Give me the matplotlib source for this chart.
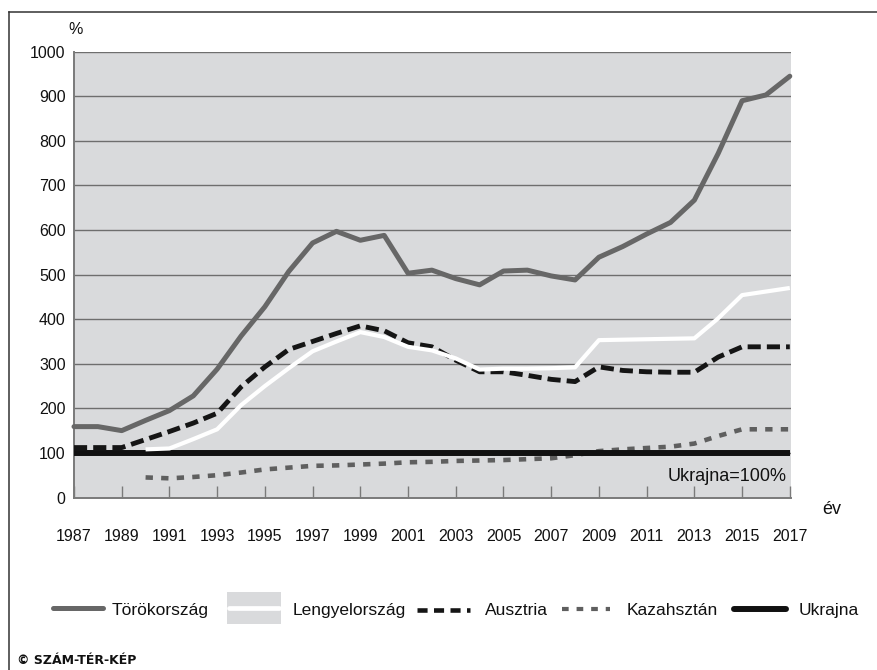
import numpy as np
import matplotlib
matplotlib.use("Agg")
import matplotlib.pyplot as plt
from matplotlib.lines import Line2D
from matplotlib.patches import Rectangle

plt.rcParams['font.family'] = ['Liberation Sans', 'DejaVu Sans']

years = list(range(1987, 2018))
xtick_years = list(range(1987, 2018, 2))
yticks = list(range(0, 1001, 100))

torokorszag = [159, 159, 150, 173, 195, 228, 288, 362, 428, 507, 571, 597, 577, 588, 503,
               510, 491, 477, 508, 510, 497, 488, 539, 563, 591, 617, 667, 772, 890, 903, 945]
lengyelorszag = [None, None, None, 108, 110, 131, 153, 207, 250, 290, 328, 350, 371, 360, 338,
                 330, 312, 287, 289, 289, 290, 292, 353, 354, 355, 356, 357, 402, 454, 462, 470]
ausztria = [112, 112, 112, 130, 148, 167, 189, 248, 293, 332, 350, 368, 385, 374, 347,
            338, 308, 282, 282, 274, 265, 260, 293, 285, 282, 281, 281, 315, 338, 338, 338]
kazahsztan = [None, None, None, 45, 43, 46, 50, 56, 63, 67, 71, 72, 74, 76, 79,
              80, 82, 83, 84, 86, 88, 95, 104, 108, 111, 114, 121, 138, 153, 153, 153]
ukrajna = [100] * 31

labels = ['Törökország', 'Lengyelország', 'Ausztria', 'Kazahsztán', 'Ukrajna']

def arr(v):
    return np.array([np.nan if a is None else a for a in v], dtype=float)

W, H = 877, 670
fig = plt.figure(figsize=(W / 100, H / 100), dpi=100)

def fx(px):
    return px / W

def fy(py):
    return 1 - py / H

ax = fig.add_axes([fx(74), fy(497.5), fx(791) - fx(74), fy(51.7) - fy(497.5)])
ax.set_facecolor('#d9dadc')
ax.set_xlim(1987, 2017.05)
ax.set_ylim(0, 1000)

for v in yticks[1:]:
    ax.axhline(v, color='#6e6e6e', lw=1.0, zorder=1)

for s in ['top', 'right']:
    ax.spines[s].set_visible(False)
for s in ['left', 'bottom']:
    ax.spines[s].set_color('#7a7a7a')
    ax.spines[s].set_linewidth(1.4)

ax.set_xticks(xtick_years)
ax.set_xticklabels([str(y) for y in xtick_years])
ax.set_yticks(yticks)
ax.set_yticklabels([str(v) for v in yticks])
ax.tick_params(axis='x', direction='in', length=8.5, width=1.0, color='#7a7a7a',
               pad=23, labelsize=11.5, labelcolor='#111111')
ax.tick_params(axis='y', length=0, pad=6, labelsize=11.5, labelcolor='#111111')

x = np.array(years)
ax.plot(x, arr(kazahsztan), color='#5f5f5f', lw=3.3, dashes=(1.6, 1.8),
        solid_capstyle='butt', dash_capstyle='butt', zorder=3, clip_on=False)
ax.plot(x, arr(ukrajna), color='#111111', lw=4.3, solid_capstyle='butt', zorder=4, clip_on=False)
ax.plot(x, arr(ausztria), color='#151515', lw=3.5, dashes=(2.7, 1.25),
        dash_capstyle='butt', zorder=5, clip_on=False)
ax.plot(x, arr(lengyelorszag), color='white', lw=3.0, solid_capstyle='butt', zorder=6, clip_on=False)
ax.plot(x, arr(torokorszag), color='#676767', lw=3.6, solid_capstyle='round',
        solid_joinstyle='round', zorder=7, clip_on=False)

ax.text(2016.85, 37, 'Ukrajna=100%', ha='right', va='baseline', fontsize=13, color='#111111', zorder=8)

fig.text(fx(76), fy(29), '%', ha='center', va='center', fontsize=11.5, color='#111111')
fig.text(fx(832), fy(510), 'év', ha='center', va='center', fontsize=13, color='#111111')

# frame
fig.add_artist(Line2D([fx(9), fx(9)], [fy(12), fy(670)], color='#333333', lw=1.1))
fig.add_artist(Line2D([fx(9), 1.0], [fy(12), fy(12)], color='#333333', lw=1.1))

# legend
ly = fy(608)
base = fy(615)
fs = 12.5
fig.add_artist(Line2D([fx(53), fx(103)], [ly, ly], color='#676767', lw=3.6, solid_capstyle='round'))
fig.text(fx(112), base, labels[0], ha='left', va='baseline', fontsize=fs, color='#111111')
fig.add_artist(Rectangle((fx(227), fy(624)), fx(281) - fx(227), fy(592) - fy(624),
                         transform=fig.transFigure, facecolor='#d9dadc', edgecolor='none'))
fig.add_artist(Line2D([fx(229), fx(279)], [ly, ly], color='white', lw=3.4, solid_capstyle='round'))
fig.text(fx(293), base, labels[1], ha='left', va='baseline', fontsize=fs, color='#111111')
fig.add_artist(Line2D([fx(417), fx(470)], [fy(610), fy(610)], color='#151515', lw=3.3,
                      dashes=(2.2, 1.4), dash_capstyle='butt'))
fig.text(fx(485), base, labels[2], ha='left', va='baseline', fontsize=fs, color='#111111')
fig.add_artist(Line2D([fx(562), fx(610)], [fy(609), fy(609)], color='#5f5f5f', lw=3.0,
                      dashes=(1.6, 1.9), dash_capstyle='butt'))
fig.text(fx(627), base, labels[3], ha='left', va='baseline', fontsize=fs, color='#111111')
fig.add_artist(Line2D([fx(734), fx(786)], [fy(609), fy(609)], color='#111111', lw=4.3,
                      solid_capstyle='round'))
fig.text(fx(799), base, labels[4], ha='left', va='baseline', fontsize=fs, color='#111111')

fig.text(fx(17), fy(660), '© SZÁM-TÉR-KÉP', ha='left', va='center', fontsize=9,
         fontweight='bold', family=['DejaVu Sans'], color='#111111')

fig.savefig('out.png', dpi=100)
